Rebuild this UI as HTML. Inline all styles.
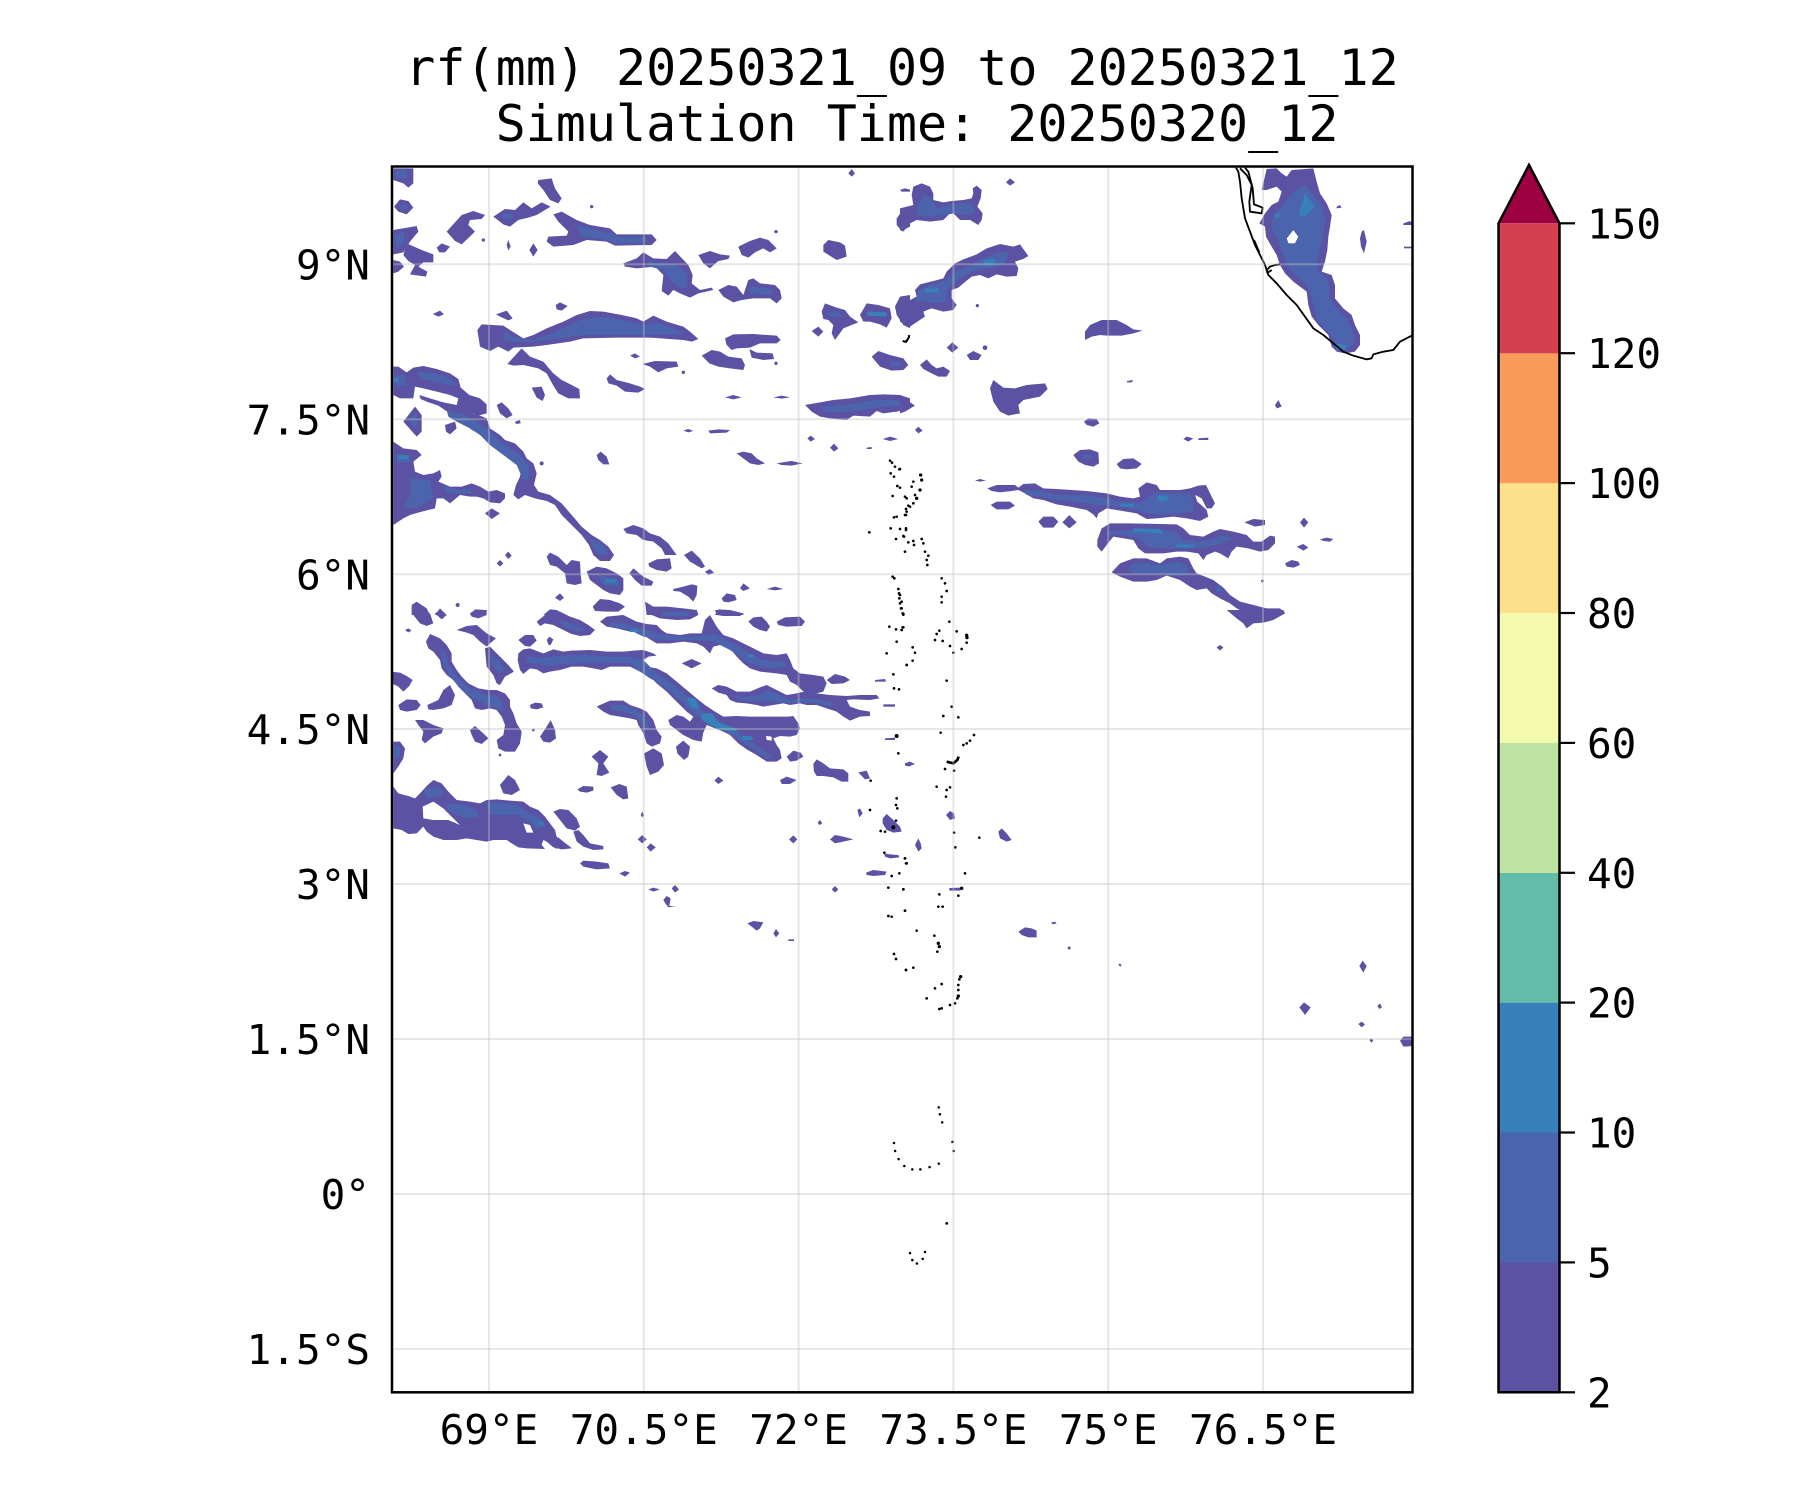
<!DOCTYPE html>
<html><head><meta charset="utf-8"><style>
html,body{margin:0;padding:0;background:#fff}
svg{display:block}
.a{fill:#5b52a3}.b{fill:#4c64ad}.c{fill:#3880b9}.k{fill:#000}
text{font-family:"DejaVu Sans Mono","Liberation Mono",monospace;fill:#000}
</style></head><body>
<svg width="1800" height="1500" viewBox="0 0 1800 1500" xmlns="http://www.w3.org/2000/svg">
<rect width="1800" height="1500" fill="#fff"/>
<defs><clipPath id="ax"><rect x="392" y="167" width="1020" height="1225"/></clipPath></defs>
<g clip-path="url(#ax)">
<!-- region A -->
<g transform="translate(390,165) scale(0.333333)">
<polygon class="a" points="10,10 70,10 70,55 55,68 40,55 10,45"/>
<polygon class="b" points="15,15 50,15 50,40 20,40"/>
<polygon class="a" points="445,45 485,40 495,70 515,100 505,115 480,105 460,75 443,55"/>
<polygon class="a" points="12,125 30,103 55,108 70,128 50,148 25,140"/>
<polygon class="b" points="25,120 50,118 55,130 35,135"/>
<polygon class="a" points="170,200 215,150 250,138 285,150 275,162 240,165 235,180 255,200 215,238 195,228"/>
<polygon class="a" points="310,155 345,132 375,135 400,112 425,130 455,112 482,125 440,150 415,158 385,165 360,185 340,178"/>
<polygon class="b" points="330,150 360,145 370,160 345,165"/>
<polygon class="a" points="490,148 515,140 560,165 600,180 660,190 680,208 785,208 800,225 785,240 675,242 650,230 590,225 550,240 490,245 470,230 475,215 530,212 535,200 505,170"/>
<polygon class="b" points="560,180 620,195 690,215 770,218 770,232 680,235 640,222 575,215"/>
<polygon class="a" points="10,195 80,183 85,200 60,230 40,262 10,268"/>
<polygon class="b" points="15,210 45,200 40,235 20,250"/>
<polygon class="a" points="50,235 95,255 130,268 130,292 100,292 85,305 112,320 108,335 60,328 75,300 55,288 40,270"/>
<polygon class="a" points="10,285 30,290 42,305 25,320 10,325"/>
<polygon class="a" points="140,248 155,235 180,245 165,262 148,262"/>
<circle class="a" cx="280" cy="225" r="5"/>
<polygon class="a" points="350,240 355,225 362,245 355,256"/>
<polygon class="a" points="418,255 430,235 443,255 430,275"/>
<circle class="a" cx="605" cy="125" r="5"/>
<circle class="a" cx="1158" cy="200" r="5"/>
<polygon class="a" points="700,295 740,280 760,262 790,280 830,282 855,258 895,300 908,330 905,355 930,375 965,368 970,375 925,385 900,398 870,385 850,375 835,392 815,378 820,330 795,305 740,310 705,305"/>
<polygon class="b" points="770,290 820,295 860,300 890,325 890,365 870,370 840,345 820,315 780,305"/>
<polygon class="a" points="925,270 960,258 990,268 1020,272 1015,282 985,288 960,310 940,295"/>
<polygon class="a" points="1045,245 1080,228 1110,218 1135,225 1160,250 1140,262 1120,250 1095,262 1075,278 1055,270"/>
<polygon class="a" points="1300,240 1315,225 1350,232 1365,242 1370,275 1340,285 1300,260"/>
<polygon class="a" points="1385,12 1395,25 1385,35 1375,25"/>
<polygon class="a" points="1530,75 1545,70 1560,74 1560,80 1535,80"/>
<polygon class="a" points="1520,160 1535,140 1560,130 1560,185 1535,198 1520,180"/>
<polygon class="a" points="985,375 1015,360 1040,365 1060,390 1075,345 1090,340 1110,355 1155,360 1170,375 1175,400 1160,415 1140,400 1090,400 1055,405 1030,412 1000,395"/>
<polygon class="b" points="1075,365 1140,370 1150,390 1080,385"/>
<polygon class="a" points="262,495 275,478 340,482 360,495 400,520 430,510 470,490 520,470 560,450 600,438 640,440 695,450 740,460 760,470 790,452 830,470 880,485 900,500 925,522 905,530 880,525 780,518 680,518 580,520 540,530 470,540 430,545 370,548 355,560 325,545 300,558 270,545"/>
<polygon class="b" points="340,500 380,520 430,525 470,510 520,490 570,465 640,455 700,465 740,475 760,480 800,472 860,495 880,508 800,510 700,510 600,510 540,515 470,525 420,532 370,530 340,525"/>
<polygon class="a" points="128,447 150,437 162,448 145,455"/>
<polygon class="a" points="318,448 350,437 368,460 355,466 330,455"/>
<polygon class="a" points="497,420 510,412 533,423 515,437 500,433"/>
<polygon class="a" points="352,597 395,550 420,575 460,590 475,608 490,625 515,645 545,660 568,672 570,700 535,700 505,685 490,662 470,625 445,610 400,600 370,602"/>
<polygon class="a" points="425,668 455,665 465,690 458,708 440,698"/>
<polygon class="a" points="720,572 735,565 750,575 735,580"/>
<polygon class="a" points="757,597 795,588 860,590 865,605 830,610 805,622 780,605"/>
<circle class="a" cx="880" cy="622" r="5"/>
<polygon class="a" points="935,572 965,555 990,560 1015,575 1055,580 1065,600 1060,615 1020,610 985,605 958,595"/>
<polygon class="a" points="1005,520 1030,508 1090,507 1160,512 1172,525 1160,535 1110,535 1080,548 1040,550 1025,555 1010,540"/>
<polygon class="a" points="1078,552 1100,563 1148,565 1152,582 1120,585 1085,578"/>
<circle class="a" cx="1158" cy="595" r="5"/>
<polygon class="a" points="650,640 660,628 680,645 720,655 750,665 765,672 745,683 705,680 680,662 655,655"/>
<polygon class="a" points="1005,697 1030,690 1055,697 1030,703"/>
<polygon class="a" points="1150,697 1175,692 1200,697 1175,701"/>
<polygon class="a" points="1245,720 1290,712 1330,705 1380,700 1440,690 1480,688 1530,690 1560,700 1560,730 1520,740 1480,745 1460,738 1440,755 1390,752 1370,765 1320,760 1290,755 1265,740"/>
<polygon class="b" points="1290,725 1380,718 1450,705 1520,705 1540,720 1460,728 1400,738 1340,742 1300,738"/>
<polygon class="a" points="1295,440 1305,415 1340,428 1365,435 1380,455 1405,472 1385,480 1360,490 1335,525 1325,505 1330,480 1315,465 1300,462"/>
<polygon class="b" points="1310,440 1345,440 1360,455 1320,455"/>
<polygon class="a" points="1410,450 1430,415 1465,420 1500,430 1505,460 1490,488 1470,478 1440,470 1420,470"/>
<polygon class="c" points="1430,440 1490,442 1490,455 1432,452"/>
<polygon class="a" points="1515,425 1530,395 1560,390 1560,490 1540,480 1520,450"/>
<polygon class="a" points="1265,498 1285,485 1300,500 1285,515"/>
<polygon class="a" points="1445,575 1465,558 1500,570 1540,580 1555,600 1540,615 1505,617 1470,605"/>
<polygon class="b" points="1500,590 1540,592 1535,605 1505,605"/>
<path d="M1538,528 L1548,531 L1556,518 L1558,510" stroke="#000" stroke-width="6" fill="none"/>
<!-- left bands -->
<polygon class="a" points="10,605 25,605 50,622 70,608 100,603 140,612 180,625 205,642 212,668 238,690 270,700 290,718 290,745 265,752 240,745 215,730 200,720 205,700 180,690 140,680 100,670 75,665 70,700 30,700 10,690"/>
<polygon class="b" points="15,630 45,630 50,660 20,665"/>
<polygon class="b" points="80,620 140,625 180,640 200,660 170,660 130,650 90,640"/>
<polygon class="c" points="10,640 25,640 25,652 10,652"/>
<polygon class="a" points="88,690 120,700 160,712 200,720 225,735 250,748 270,752 290,760 300,790 330,810 345,825 375,835 400,860 410,880 430,895 440,925 432,960 445,980 480,990 515,1015 545,1050 575,1085 605,1110 630,1125 655,1145 672,1170 660,1188 630,1188 610,1170 597,1140 575,1110 550,1085 515,1050 495,1020 470,1008 435,1000 405,990 385,1003 370,990 378,960 390,935 395,905 378,890 360,880 330,862 318,840 295,820 270,805 245,795 232,780 230,760 205,750 175,742 160,732 145,722 110,710 92,702"/>
<polygon class="b" points="170,735 215,745 260,770 290,790 320,820 350,840 390,870 415,900 420,930 405,950 395,935 380,900 340,870 300,840 270,810 240,790 200,770 175,755"/>
<polygon class="b" points="600,1120 640,1140 655,1165 630,1170 610,1150"/>
<polygon class="a" points="165,780 195,770 200,790 180,808 168,800"/>
<polygon class="a" points="40,770 75,725 95,750 95,800 80,815"/>
<polygon class="b" points="55,765 75,745 85,770 75,790"/>
<polygon class="a" points="320,720 335,712 355,730 368,750 350,760 330,745"/>
<polygon class="a" points="375,770 390,765 392,775 378,777"/>
<polygon class="a" points="10,830 40,850 80,855 95,870 70,890 75,920 100,930 130,925 150,915 155,935 145,950 180,965 215,965 245,955 270,965 295,980 320,975 345,985 345,1000 330,1015 300,1012 280,1000 260,995 240,995 210,990 180,1015 160,1000 140,1000 135,1030 95,1040 60,1050 40,1060 10,1080"/>
<polygon class="b" points="20,870 60,870 60,890 20,895"/>
<polygon class="b" points="60,940 120,945 130,1000 80,1030 40,1030 60,990"/>
<polygon class="b" points="160,965 210,975 240,970 250,985 200,985 170,985"/>
<polygon class="c" points="25,870 55,872 55,882 25,882"/>
<polygon class="a" points="285,1045 305,1030 330,1045 305,1062"/>
<circle class="a" cx="455" cy="895" r="6"/>
<polygon class="a" points="320,1195 330,1185 340,1195 330,1205"/>
<polygon class="a" points="345,1170 355,1160 365,1172 355,1182"/>
<polygon class="a" points="620,870 632,860 650,875 658,898 640,898 625,885"/>
<polygon class="a" points="700,1092 730,1080 760,1090 780,1105 810,1115 835,1135 860,1170 825,1170 815,1150 790,1130 760,1125 740,1110 710,1105"/>
<polygon class="a" points="470,1175 480,1163 505,1175 530,1200 545,1185 570,1190 572,1230 575,1255 555,1260 530,1255 525,1225 500,1205 480,1200"/>
<polygon class="a" points="590,1220 620,1205 650,1210 680,1225 700,1240 700,1275 690,1290 660,1285 640,1275 620,1260 600,1245"/>
<polygon class="b" points="620,1230 680,1240 690,1265 640,1260"/>
<polygon class="c" points="645,1243 680,1243 680,1252 645,1252"/>
<polygon class="a" points="718,1225 730,1210 760,1235 790,1250 785,1262 755,1262 735,1245"/>
<polygon class="a" points="775,1195 800,1183 840,1180 845,1210 830,1220 800,1215 778,1205"/>
<polygon class="a" points="882,1170 905,1157 930,1180 945,1205 935,1210 900,1190"/>
<polygon class="a" points="945,1220 960,1212 972,1223 955,1230"/>
<polygon class="a" points="1050,1270 1060,1255 1080,1270 1060,1278"/>
<polygon class="a" points="1130,1272 1155,1265 1180,1272 1155,1276"/>
<polygon class="a" points="850,1272 880,1265 905,1258 922,1262 920,1290 910,1310 895,1295 870,1280 850,1278"/>
<polygon class="a" points="995,1300 1010,1285 1035,1290 1040,1305 1015,1312 1000,1310"/>
<polygon class="a" points="495,1298 510,1285 522,1298 510,1308"/>
<circle class="a" cx="203" cy="1320" r="6"/>
<polygon class="a" points="1040,865 1060,860 1085,865 1100,880 1125,895 1105,900 1080,895 1060,880"/>
<polygon class="a" points="1160,895 1190,890 1205,888 1238,895 1205,902 1175,900"/>
<polygon class="a" points="880,797 895,792 910,798 895,802"/>
<polygon class="a" points="955,797 985,793 1020,795 1010,803 960,805"/>
<polygon class="a" points="1252,820 1262,812 1275,822 1262,830"/>
<polygon class="a" points="1320,848 1332,836 1345,850 1332,860"/>
<polygon class="a" points="1478,822 1500,815 1525,822 1500,828"/>
<polygon class="a" points="1430,848 1445,846 1445,852 1430,852"/>
<polygon class="a" points="65,1320 80,1310 110,1330 120,1350 65,1350"/>
<polygon class="a" points="135,1350 150,1330 170,1350"/>
<polygon class="a" points="240,1350 255,1333 285,1335 290,1350"/>
<polygon class="a" points="460,1350 480,1333 500,1335 525,1350"/>
<polygon class="a" points="608,1325 630,1302 660,1305 690,1315 705,1325 685,1340 650,1340 615,1338"/>
<polygon class="a" points="765,1310 790,1325 830,1325 880,1330 920,1335 925,1350 770,1350"/>
<polygon class="a" points="975,1350 985,1333 1020,1335 1060,1345 1060,1350"/>
<g class="k">
<circle cx="1500" cy="887" r="4"/><circle cx="1506" cy="893" r="4"/><circle cx="1515" cy="905" r="4"/><circle cx="1528" cy="913" r="4"/><circle cx="1502" cy="925" r="4"/><circle cx="1512" cy="935" r="4"/><circle cx="1522" cy="963" r="4"/><circle cx="1530" cy="968" r="4"/><circle cx="1508" cy="993" r="4"/><circle cx="1545" cy="995" r="4"/><circle cx="1555" cy="1022" r="4"/><circle cx="1548" cy="1032" r="4"/><circle cx="1512" cy="1057" r="4"/><circle cx="1520" cy="1055" r="4"/><circle cx="1548" cy="1050" r="4"/><circle cx="1502" cy="1090" r="4"/><circle cx="1530" cy="1092" r="4"/><circle cx="1548" cy="1095" r="4"/><circle cx="1438" cy="1102" r="4"/><circle cx="1518" cy="1122" r="4"/><circle cx="1540" cy="1113" r="4"/><circle cx="1555" cy="1132" r="4"/><circle cx="1545" cy="1160" r="4"/><circle cx="1508" cy="1235" r="4"/><circle cx="1513" cy="1240" r="4"/><circle cx="1525" cy="1272" r="4"/><circle cx="1527" cy="1285" r="4"/><circle cx="1528" cy="1300" r="4"/><circle cx="1530" cy="1315" r="4"/><circle cx="1533" cy="1330" r="4"/><circle cx="1538" cy="1345" r="4"/>
</g>
</g>
<!-- region B -->
<g transform="translate(900,165) scale(0.333333)">
<polygon class="a" points="0,75 15,70 28,77 10,80"/>
<polygon class="a" points="0,130 40,120 35,90 40,65 65,55 90,65 100,85 100,105 130,112 155,108 190,105 215,100 220,85 218,70 230,62 245,75 242,100 232,125 248,145 245,165 235,180 210,165 180,165 155,140 130,165 90,170 50,165 30,175 10,200 0,195"/>
<polygon class="b" points="50,130 70,90 95,100 110,130 150,120 170,115 215,115 225,140 200,150 165,145 130,150 90,155 50,150"/>
<polygon class="a" points="318,52 330,40 345,52 330,62"/>
<polygon class="a" points="0,400 30,405 50,395 45,375 60,358 100,348 130,340 140,320 165,295 190,283 230,268 260,250 300,237 340,245 360,238 385,273 370,282 345,290 355,310 350,333 320,335 290,328 265,340 240,330 215,335 190,355 175,368 155,375 155,400 170,420 160,435 130,440 95,430 70,440 75,455 55,468 30,485 0,470"/>
<polygon class="b" points="50,380 90,360 140,345 165,320 210,300 250,280 300,262 330,262 310,300 270,310 230,315 195,330 160,355 140,380 140,410 110,415 80,410 50,410"/>
<polygon class="c" points="250,285 285,282 285,298 252,300"/>
<polygon class="c" points="75,370 115,370 115,382 75,382"/>
<circle class="a" cx="232" cy="422" r="5"/>
<polygon class="a" points="140,548 157,532 175,548 157,563"/>
<polygon class="a" points="200,570 220,558 245,570 235,585 210,585"/>
<circle class="a" cx="255" cy="548" r="7"/>
<polygon class="a" points="0,585 10,580 22,598 5,615 0,615"/>
<polygon class="a" points="60,600 80,583 95,600 110,610 130,605 150,618 140,635 115,635 95,625 70,612"/>
<polygon class="a" points="270,670 280,645 310,668 345,670 380,660 435,655 443,672 420,695 370,705 355,720 360,745 325,752 300,740 280,710"/>
<polygon class="a" points="0,695 20,705 45,722 15,740 0,745"/>
<polygon class="a" points="555,500 570,480 605,465 650,465 680,480 700,493 728,497 700,505 665,512 620,512 600,510 575,515 555,525"/>
<polygon class="a" points="680,648 700,645 695,652 682,652"/>
<path class="a" fill-rule="evenodd" d="M1085,75 L1100,12 1130,10 1145,25 1160,35 1175,15 1240,10 1250,50 1260,85 1280,115 1295,150 1290,185 1285,215 1282,255 1275,290 1265,320 1295,330 1305,360 1305,400 1330,430 1355,450 1365,480 1380,510 1380,540 1365,560 1335,565 1310,560 1295,545 1285,510 1255,480 1235,455 1225,420 1220,380 1180,350 1155,325 1140,300 1130,270 1115,245 1098,215 1095,185 1078,175 1095,145 1115,120 1135,110 1145,80 1130,65 1100,75 Z M1160,220 L1180,195 1195,215 1185,235 1165,235 Z"/>
<path class="b" fill-rule="evenodd" d="M1120,150 L1140,130 1160,105 1190,70 1215,60 1240,90 1265,120 1275,160 1270,200 1260,250 1250,290 1255,320 1285,345 1290,400 1310,430 1340,460 1355,490 1365,530 1340,555 1310,550 1300,520 1275,490 1250,460 1240,420 1225,370 1200,340 1175,320 1160,300 1145,260 1130,220 1115,190 Z M1160,220 L1180,195 1195,215 1185,235 1165,235 Z"/>
<polygon class="c" points="1195,150 1215,85 1245,125 1215,155"/>
<polygon class="c" points="1125,145 1138,145 1138,158 1125,158"/>
<polygon class="c" points="1300,535 1340,540 1335,555 1310,555"/>
<polygon class="a" points="1310,125 1320,120 1325,128 1310,130"/>
<polygon class="a" points="1385,200 1392,195 1400,230 1392,265 1383,245 1380,220"/>
<polygon class="a" points="1510,175 1530,168 1540,180 1510,180"/>
<polygon class="a" points="1512,245 1540,245 1540,250 1512,250"/>
<polygon class="a" points="1125,720 1135,705 1145,725 1130,730"/>
<polygon class="a" points="552,770 565,760 590,762 598,775 580,785 560,780"/>
<polygon class="a" points="45,795 55,785 68,797 55,805"/>
<polygon class="a" points="520,870 540,855 570,853 595,862 597,895 580,905 555,900 535,890"/>
<polygon class="b" points="545,870 575,868 580,880 550,880"/>
<polygon class="a" points="650,897 670,882 700,880 725,897 710,910 680,913 660,910"/>
<polygon class="a" points="850,822 860,815 880,820 865,830"/>
<polygon class="a" points="895,820 925,818 925,825 895,825"/>
<polygon class="a" points="225,947 240,942 258,947 240,950"/>
<polygon class="a" points="262,970 290,960 345,960 355,968 370,957 405,955 430,970 470,972 560,978 620,985 660,995 700,1000 720,995 715,970 740,952 770,960 780,975 840,975 870,970 895,962 918,960 945,1015 935,1030 920,1030 905,1000 885,990 892,1010 920,1035 925,1055 900,1068 860,1060 820,1055 770,1060 740,1062 710,1045 650,1035 620,1030 595,1045 590,1060 580,1048 560,1035 510,1025 470,1018 430,1005 400,1000 375,985 355,975 335,978 300,982 275,978"/>
<polygon class="b" points="370,975 420,978 470,990 560,990 620,1000 660,1010 720,1015 760,985 820,985 870,985 880,1010 880,1040 840,1045 780,1050 740,1045 690,1030 640,1022 590,1020 520,1010 470,1005 420,995 380,990"/>
<polygon class="c" points="770,995 800,990 805,1005 780,1010"/>
<polygon class="c" points="660,1018 700,1016 700,1025 660,1025"/>
<polygon class="a" points="272,1020 290,1010 330,1010 345,1022 325,1033 290,1033"/>
<polygon class="a" points="415,1070 430,1055 460,1055 475,1070 460,1088 430,1088"/>
<polygon class="a" points="487,1072 508,1050 530,1072 508,1090"/>
<polygon class="a" points="592,1125 605,1090 630,1075 680,1075 780,1077 830,1078 850,1090 870,1110 910,1115 940,1100 960,1092 1000,1100 1040,1110 1060,1130 1085,1130 1110,1112 1125,1115 1125,1135 1105,1155 1080,1160 1045,1150 1010,1145 995,1160 985,1180 960,1165 945,1160 920,1170 910,1185 895,1165 860,1160 830,1160 790,1165 735,1165 715,1150 700,1125 640,1115 620,1140 605,1160 592,1145"/>
<polygon class="b" points="620,1100 700,1095 780,1095 830,1100 850,1125 900,1130 930,1125 960,1110 1000,1120 950,1140 900,1150 850,1150 790,1150 740,1145 720,1120 660,1108 625,1110"/>
<polygon class="c" points="700,1090 780,1092 790,1105 700,1100"/>
<polygon class="c" points="830,1138 880,1140 880,1148 830,1146"/>
<polygon class="a" points="1033,1072 1060,1062 1095,1065 1095,1080 1065,1085"/>
<polygon class="a" points="1200,1072 1212,1058 1225,1072 1212,1088"/>
<polygon class="a" points="1190,1145 1210,1137 1225,1148 1210,1157"/>
<polygon class="a" points="1260,1123 1280,1118 1300,1122 1290,1130 1270,1128"/>
<polygon class="a" points="1155,1195 1175,1185 1195,1190 1200,1200 1180,1208 1160,1205"/>
<circle class="a" cx="1087" cy="1248" r="4"/>
<polygon class="a" points="635,1222 660,1195 700,1180 740,1180 780,1195 800,1180 840,1175 865,1180 880,1210 890,1225 915,1235 940,1245 970,1268 990,1290 1020,1310 1060,1320 1100,1330 1140,1330 1155,1345 1140,1350 1080,1350 1040,1345 1010,1330 990,1315 960,1300 935,1285 920,1270 890,1275 870,1265 840,1245 800,1232 770,1245 740,1250 700,1250 660,1235"/>
<polygon class="b" points="700,1195 740,1195 790,1200 830,1190 860,1200 870,1225 830,1235 790,1225 740,1230 700,1225 680,1215"/>
<polygon class="b" points="945,1262 965,1262 968,1280 948,1280"/>
<g fill="none" stroke="#000" stroke-width="5.5" stroke-linejoin="round">
<path d="M1008,8 L1015,20 1020,50 1025,100 1035,160 1050,200 1065,240 1080,270 1095,300 1105,330 1130,355 1160,390 1190,420 1215,455 1240,490 1270,510 1300,535 1330,560 1360,572 1400,583 1415,580 1420,568 1450,560 1480,555 1500,530 1535,512"/>
<path d="M1020,10 L1040,30 1055,60 1048,110 1050,140 1085,145 1088,128 1062,118 1058,70 1045,20 1035,8"/>
<path d="M1098,318 L1110,305 1125,300 1140,298 M1100,325 L1115,315 M1062,225 L1078,262"/>
<path d="M12,530 L20,528 28,515"/>
</g>
<g class="k">
<circle cx="0" cy="912" r="4"/><circle cx="40" cy="950" r="4"/><circle cx="35" cy="965" r="4"/><circle cx="62" cy="930" r="5"/><circle cx="65" cy="945" r="5"/><circle cx="60" cy="975" r="5"/><circle cx="50" cy="1000" r="5"/><circle cx="45" cy="990" r="4"/><circle cx="20" cy="1000" r="4"/><circle cx="40" cy="1015" r="4"/><circle cx="30" cy="1025" r="4"/><circle cx="20" cy="1040" r="4"/><circle cx="15" cy="1050" r="4"/><circle cx="18" cy="1090" r="4"/><circle cx="12" cy="1115" r="4"/><circle cx="40" cy="1128" r="4"/><circle cx="42" cy="1140" r="4"/><circle cx="65" cy="1122" r="4"/><circle cx="70" cy="1135" r="4"/><circle cx="75" cy="1160" r="4"/><circle cx="85" cy="1172" r="4"/><circle cx="80" cy="1185" r="4"/><circle cx="82" cy="1200" r="4"/><circle cx="125" cy="1240" r="4"/><circle cx="135" cy="1255" r="4"/><circle cx="140" cy="1278" r="4"/><circle cx="125" cy="1295" r="4"/><circle cx="125" cy="1312" r="4"/><circle cx="0" cy="1290" r="4"/><circle cx="5" cy="1310" r="4"/><circle cx="5" cy="1330" r="4"/>
</g>
</g>
<!-- region C -->
<g transform="translate(390,610) scale(0.333333)">
<polygon class="a" points="65,0 90,0 120,10 130,40 110,48 90,40 70,15"/>
<polygon class="a" points="135,10 150,0 170,15 155,28"/>
<polygon class="a" points="240,10 255,0 290,0 290,15 265,25 245,20"/>
<polygon class="a" points="440,35 465,15 480,0 510,5 540,20 570,30 595,45 615,60 600,75 570,78 545,72 520,60 490,45 465,40 450,48"/>
<polygon class="b" points="510,30 560,45 590,60 560,65 520,50"/>
<polygon class="a" points="630,35 650,20 700,15 740,35 770,42 800,45 815,60 830,70 870,75 900,70 935,70 945,30 960,15 980,50 1000,75 1030,85 1060,100 1080,110 1120,130 1160,135 1190,130 1200,150 1210,175 1230,190 1270,195 1300,200 1310,220 1300,245 1280,250 1250,250 1235,240 1220,225 1200,215 1190,195 1160,190 1110,185 1080,175 1060,160 1040,140 1020,115 990,105 970,110 960,130 940,110 920,100 880,95 840,100 800,100 775,85 760,70 720,65 680,55 650,50"/>
<polygon class="b" points="660,35 720,45 770,60 820,75 900,82 950,75 975,70 1010,90 1050,110 1075,130 1120,150 1180,155 1195,170 1130,175 1080,160 1050,140 1020,120 970,95 920,90 860,90 800,88 760,80 720,60 660,50"/>
<polygon class="c" points="720,58 745,58 745,66 720,66"/>
<polygon class="c" points="1075,133 1090,133 1090,142 1075,142"/>
<polygon class="a" points="780,0 920,0 925,15 900,28 860,30 810,25 785,15"/>
<polygon class="b" points="810,5 900,5 895,18 820,18"/>
<polygon class="a" points="975,0 1000,0 1030,8 1060,10 1050,18 1000,18 980,15"/>
<polygon class="a" points="1075,35 1090,22 1115,20 1130,35 1140,50 1130,65 1110,60 1090,50"/>
<polygon class="a" points="1160,35 1185,22 1230,20 1245,35 1235,48 1190,50 1165,45"/>
<polygon class="a" points="45,60 55,55 65,62 55,67"/>
<polygon class="a" points="200,60 230,48 260,45 290,70 318,85 300,100 290,110 270,95 250,75 230,68"/>
<polygon class="a" points="108,95 120,72 150,85 170,105 185,130 185,155 200,180 215,200 235,220 265,235 295,240 320,240 345,250 360,270 360,290 370,310 380,340 395,365 390,400 375,425 345,425 325,415 320,390 340,375 345,345 335,320 320,300 300,295 275,300 255,295 245,270 225,250 205,230 190,210 170,195 155,175 150,150 130,125 115,115"/>
<polygon class="b" points="150,110 165,130 175,160 200,200 240,235 290,255 320,255 335,275 340,300 300,290 270,275 240,260 215,240 185,205 160,165"/>
<polygon class="a" points="285,115 300,110 330,140 355,165 372,185 345,200 330,225 320,220 310,195 290,170"/>
<polygon class="b" points="300,135 325,150 345,180 325,190 305,160"/>
<polygon class="a" points="385,90 405,75 430,75 440,92 420,110 405,108"/>
<polygon class="a" points="470,90 478,80 490,88 482,105 476,105"/>
<path class="a" fill-rule="evenodd" d="M385,130 L400,118 420,115 460,130 490,118 520,125 545,122 600,120 650,125 700,125 730,122 760,120 790,130 800,137 775,140 760,150 770,170 800,175 830,190 860,215 890,240 920,265 945,285 975,305 1000,320 1040,318 1080,320 1120,320 1160,320 1195,320 1210,318 1225,340 1230,355 1220,375 1200,380 1170,378 1150,385 1160,405 1170,420 1175,445 1160,455 1130,455 1100,435 1070,418 1045,400 1020,375 1000,365 975,355 950,345 940,368 935,395 910,390 880,375 860,360 840,345 835,330 860,315 880,320 900,335 910,320 890,305 870,285 850,265 830,245 800,220 780,200 760,190 740,180 720,170 690,170 660,170 635,180 610,175 580,170 545,170 510,180 480,185 460,190 440,178 420,175 400,192 390,180 383,150 Z M1128,378 L1145,380 1145,392 1130,390 Z"/>
<polygon class="b" points="410,135 440,145 480,140 540,135 600,135 660,140 720,140 760,150 800,190 840,215 880,250 910,280 950,315 990,335 1010,345 1040,360 1060,385 1090,400 1110,415 1130,430 1150,440 1130,445 1100,425 1070,405 1040,385 1000,360 960,340 930,325 900,300 870,270 840,245 810,220 780,205 750,185 720,160 680,158 630,160 570,160 520,162 470,168 440,160 410,158"/>
<polygon class="c" points="890,262 915,265 930,295 905,295"/>
<polygon class="c" points="935,310 965,310 990,340 1040,355 1040,365 990,360 960,345 935,330"/>
<polygon class="c" points="1055,378 1085,378 1090,390 1058,390"/>
<polygon class="a" points="965,235 985,225 1010,230 1040,245 1080,245 1110,232 1130,225 1160,240 1190,255 1220,250 1240,245 1260,248 1280,250 1320,255 1370,258 1410,255 1460,255 1468,265 1440,270 1390,268 1370,270 1380,290 1410,300 1440,305 1440,318 1410,320 1380,332 1360,320 1340,305 1310,295 1280,285 1250,285 1230,280 1200,285 1180,280 1150,285 1120,290 1100,285 1070,280 1040,278 1020,270 1010,255 985,248"/>
<polygon class="b" points="1020,255 1060,262 1110,255 1130,240 1170,255 1200,270 1240,265 1300,270 1340,282 1320,290 1280,278 1240,278 1190,280 1140,275 1100,275 1060,272"/>
<polygon class="a" points="1310,210 1335,192 1365,200 1380,210 1360,220 1325,222"/>
<polygon class="a" points="1455,210 1485,207 1488,215 1455,215"/>
<polygon class="a" points="1480,283 1515,283 1515,290 1480,290"/>
<polygon class="a" points="875,160 905,147 935,160 905,175"/>
<polygon class="a" points="630,285 660,272 700,272 720,285 750,295 770,305 790,330 800,360 815,380 810,400 785,410 770,400 760,370 745,345 740,330 720,325 690,320 660,315 640,305 620,290"/>
<polygon class="b" points="660,285 700,285 740,300 765,320 780,360 765,360 740,320 700,305 665,300"/>
<polygon class="a" points="5,185 30,188 50,198 68,210 58,228 40,245 25,230 5,220"/>
<polygon class="a" points="25,285 50,268 80,270 92,285 80,300 50,305 30,300"/>
<polygon class="a" points="112,285 145,270 160,240 180,225 195,255 185,285 160,295 130,300 115,298"/>
<polygon class="a" points="420,285 435,278 455,280 460,292 440,298 422,295"/>
<polygon class="a" points="75,330 100,330 130,345 160,355 155,370 130,380 105,400 95,390 100,365 85,345"/>
<polygon class="a" points="240,360 255,348 280,370 295,385 275,402 255,395 245,375"/>
<polygon class="a" points="450,380 470,350 482,330 495,360 498,385 480,398 460,395"/>
<circle class="a" cx="430" cy="360" r="4"/>
<circle class="a" cx="330" cy="435" r="4"/>
<polygon class="a" points="10,395 30,395 45,415 40,445 25,470 10,490"/>
<polygon class="b" points="12,410 30,410 30,440 12,450"/>
<polygon class="a" points="605,440 630,420 655,440 640,460 658,488 635,498 620,495 625,460"/>
<polygon class="a" points="762,430 790,415 815,430 822,465 805,485 780,495 770,470"/>
<polygon class="a" points="858,410 880,392 900,410 895,440 882,450 862,430"/>
<polygon class="a" points="1190,440 1210,422 1232,428 1240,440 1220,452 1200,455"/>
<polygon class="a" points="1270,462 1280,448 1300,460 1320,475 1360,478 1375,490 1375,515 1355,515 1330,502 1300,498 1280,498 1272,485"/>
<polygon class="a" points="1405,487 1430,482 1440,505 1425,508"/>
<polygon class="a" points="1545,460 1560,455 1560,470 1545,467"/>
<polygon class="a" points="973,512 985,500 1000,512 985,522"/>
<polygon class="a" points="1170,510 1190,500 1220,510 1200,522 1175,522"/>
<path class="a" fill-rule="evenodd" d="M10,530 L25,550 55,558 75,565 90,550 110,528 130,510 155,520 175,545 200,570 240,575 270,580 290,570 320,568 360,572 400,575 420,590 445,600 465,620 480,640 495,660 500,680 520,700 545,715 515,718 490,712 470,695 460,690 455,705 465,717 410,715 385,712 365,700 350,690 310,690 290,695 260,690 230,685 200,690 160,690 130,680 110,665 100,650 80,670 55,672 35,660 10,655 Z M98,590 L130,575 160,595 210,645 175,630 130,630 100,625 Z M400,640 L420,645 430,668 410,668 Z"/>
<polygon class="b" points="170,580 220,585 260,600 265,620 230,625 190,610 170,595"/>
<polygon class="b" points="290,580 330,578 380,585 420,610 450,625 470,650 440,655 420,635 380,615 340,615 300,615"/>
<polygon class="b" points="100,540 140,530 160,545 150,560 110,565"/>
<polygon class="c" points="445,635 460,635 460,645 445,645"/>
<polygon class="a" points="330,525 355,495 375,510 390,540 365,555 340,550"/>
<polygon class="a" points="490,605 510,597 535,600 560,625 570,650 555,662 530,655 510,630"/>
<polygon class="a" points="550,665 565,660 580,675 600,700 640,708 640,718 610,720 580,710 560,695"/>
<polygon class="a" points="490,690 505,682 520,695 540,710 545,715 495,715"/>
<polygon class="a" points="562,538 580,528 610,530 610,542 590,548 570,545"/>
<polygon class="a" points="662,532 688,522 710,530 715,565 700,568 680,555"/>
<polygon class="a" points="752,615 757,605 762,615 757,622"/>
<polygon class="a" points="743,688 757,675 770,688 757,700"/>
<polygon class="a" points="770,712 782,700 797,712 782,725"/>
<polygon class="a" points="570,760 580,752 620,755 655,760 660,775 620,778 580,770"/>
<polygon class="a" points="688,790 705,783 720,788 705,800"/>
<polygon class="a" points="775,838 790,833 810,838 790,845"/>
<polygon class="a" points="845,835 855,825 867,838 855,848"/>
<polygon class="a" points="820,870 830,858 842,865 838,888 858,888 835,892 826,880"/>
<polygon class="a" points="1072,940 1090,933 1120,937 1110,955 1100,962 1085,950"/>
<polygon class="a" points="1150,970 1158,957 1168,970 1158,982"/>
<polygon class="a" points="1195,988 1212,988 1212,993 1195,993"/>
<polygon class="a" points="1283,638 1290,630 1297,640 1288,645"/>
<polygon class="a" points="1197,688 1210,676 1222,688 1210,700"/>
<polygon class="a" points="1320,688 1335,675 1360,680 1390,688 1360,695 1335,700"/>
<polygon class="a" points="1482,730 1500,733 1525,735 1528,742 1500,745 1485,740"/>
<polygon class="a" points="1428,788 1450,780 1490,785 1485,795 1450,798 1430,795"/>
<polygon class="a" points="1325,838 1335,828 1345,838 1335,848"/>
<polygon class="a" points="1478,625 1490,612 1510,630 1530,650 1535,665 1510,668 1490,660 1478,640"/>
<polygon class="a" points="1485,385 1515,383 1515,390 1485,390"/>
<polygon class="a" points="1402,600 1410,595 1418,610 1408,622"/>
<polygon class="a" points="1545,460 1560,455 1560,470"/>
<g class="k">
<circle cx="1540" cy="12" r="4"/><circle cx="1498" cy="50" r="4"/><circle cx="1518" cy="58" r="4"/><circle cx="1535" cy="60" r="4"/><circle cx="1540" cy="52" r="4"/><circle cx="1520" cy="95" r="4"/><circle cx="1490" cy="130" r="4"/><circle cx="1550" cy="165" r="4"/><circle cx="1510" cy="193" r="4"/><circle cx="1512" cy="235" r="4"/><circle cx="1527" cy="238" r="4"/><circle cx="1520" cy="378" r="6"/><circle cx="1525" cy="430" r="4"/><circle cx="1442" cy="512" r="4"/><circle cx="1520" cy="565" r="4"/><circle cx="1518" cy="585" r="4"/><circle cx="1522" cy="595" r="4"/><circle cx="1440" cy="600" r="4"/><circle cx="1518" cy="632" r="4"/><circle cx="1510" cy="652" r="6"/><circle cx="1472" cy="663" r="4"/><circle cx="1485" cy="665" r="4"/><circle cx="1483" cy="728" r="4"/><circle cx="1545" cy="745" r="4"/><circle cx="1548" cy="760" r="4"/><circle cx="1528" cy="790" r="4"/><circle cx="1505" cy="798" r="4"/><circle cx="1495" cy="833" r="4"/><circle cx="1540" cy="838" r="4"/><circle cx="1545" cy="902" r="4"/><circle cx="1495" cy="918" r="4"/><circle cx="1505" cy="920" r="4"/><circle cx="1512" cy="1032" r="4"/><circle cx="1518" cy="1047" r="4"/><circle cx="1548" cy="1080" r="4"/>
</g>
</g>
<!-- region D -->
<g transform="translate(900,610) scale(0.333333)">
<polygon class="a" points="980,0 1150,0 1155,10 1120,30 1090,38 1060,40 1040,55 1030,40 1010,25"/>
<polygon class="a" points="950,112 960,105 970,112 960,122"/>
<polygon class="a" points="15,462 30,455 45,462 30,468"/>
<polygon class="a" points="138,615 150,603 162,610 165,625 150,630"/>
<polygon class="a" points="295,665 305,655 320,670 335,690 320,695 300,685"/>
<polygon class="a" points="45,705 55,685 62,700 65,715 55,725"/>
<polygon class="a" points="148,834 180,833 182,842 148,842"/>
<polygon class="a" points="355,965 375,952 395,955 410,962 410,982 385,982 365,975"/>
<polygon class="a" points="453,938 465,935 470,940 458,943"/>
<polygon class="a" points="502,1013 508,1008 513,1015 507,1020"/>
<polygon class="a" points="655,1063 660,1060 665,1067 660,1070"/>
<polygon class="a" points="1378,1068 1388,1052 1400,1068 1390,1088"/>
<polygon class="a" points="1198,1192 1212,1177 1232,1192 1215,1215"/>
<polygon class="a" points="1432,1188 1440,1180 1446,1192 1438,1197"/>
<polygon class="a" points="1375,1242 1385,1235 1395,1243 1385,1252"/>
<polygon class="a" points="1408,1290 1414,1285 1420,1292 1414,1298"/>
<polygon class="a" points="1500,1292 1510,1280 1540,1280 1540,1308 1510,1310"/>
<path d="M140,455 L160,460 172,450 176,440" stroke="#000" stroke-width="8" fill="none"/>
<g class="k">
<circle cx="10" cy="14" r="4"/><circle cx="8" cy="52" r="4"/><circle cx="148" cy="35" r="4"/><circle cx="118" cy="62" r="4"/><circle cx="110" cy="72" r="4"/><circle cx="170" cy="64" r="4"/><circle cx="200" cy="76" r="5"/><circle cx="201" cy="83" r="5"/><circle cx="105" cy="90" r="4"/><circle cx="128" cy="93" r="4"/><circle cx="200" cy="98" r="4"/><circle cx="150" cy="108" r="4"/><circle cx="185" cy="117" r="4"/><circle cx="38" cy="112" r="4"/><circle cx="45" cy="128" r="4"/><circle cx="160" cy="128" r="4"/><circle cx="20" cy="165" r="4"/><circle cx="38" cy="152" r="4"/><circle cx="140" cy="212" r="4"/><circle cx="155" cy="290" r="4"/><circle cx="130" cy="318" r="4"/><circle cx="175" cy="322" r="4"/><circle cx="122" cy="368" r="4"/><circle cx="222" cy="375" r="4"/><circle cx="210" cy="392" r="4"/><circle cx="200" cy="400" r="4"/><circle cx="190" cy="405" r="4"/><circle cx="135" cy="477" r="4"/><circle cx="162" cy="482" r="4"/><circle cx="110" cy="530" r="4"/><circle cx="150" cy="532" r="4"/><circle cx="140" cy="540" r="4"/><circle cx="138" cy="560" r="4"/><circle cx="162" cy="668" r="4"/><circle cx="238" cy="683" r="4"/><circle cx="166" cy="712" r="4"/><circle cx="15" cy="745" r="4"/><circle cx="20" cy="760" r="4"/><circle cx="195" cy="790" r="4"/><circle cx="10" cy="838" r="4"/><circle cx="185" cy="835" r="5"/><circle cx="118" cy="853" r="4"/><circle cx="175" cy="857" r="4"/><circle cx="115" cy="890" r="4"/><circle cx="128" cy="890" r="4"/><circle cx="15" cy="902" r="4"/><circle cx="50" cy="962" r="4"/><circle cx="103" cy="977" r="4"/><circle cx="115" cy="1000" r="5"/><circle cx="118" cy="1010" r="5"/><circle cx="112" cy="1025" r="4"/><circle cx="18" cy="1080" r="4"/><circle cx="40" cy="1073" r="4"/><circle cx="182" cy="1100" r="5"/><circle cx="178" cy="1108" r="4"/><circle cx="175" cy="1125" r="4"/><circle cx="105" cy="1135" r="4"/><circle cx="125" cy="1122" r="4"/><circle cx="175" cy="1140" r="4"/><circle cx="175" cy="1158" r="5"/><circle cx="172" cy="1165" r="4"/><circle cx="80" cy="1165" r="4"/><circle cx="165" cy="1180" r="4"/><circle cx="150" cy="1185" r="4"/><circle cx="125" cy="1195" r="4"/><circle cx="118" cy="1197" r="4"/>
</g>
</g>
<!-- lower islands (display-scale coords) -->
<g transform="scale(1.1476)" class="k">
<circle cx="818" cy="965" r="1.1"/><circle cx="819" cy="971" r="1.1"/><circle cx="821" cy="978" r="1.1"/><circle cx="830" cy="995" r="1.1"/><circle cx="831" cy="1003" r="1.1"/><circle cx="779" cy="996" r="1.1"/><circle cx="780" cy="1003" r="1.1"/><circle cx="783" cy="1010" r="1.1"/><circle cx="788" cy="1016" r="1.1"/><circle cx="795" cy="1019" r="1.1"/><circle cx="802" cy="1019" r="1.1"/><circle cx="810" cy="1017" r="1.1"/><circle cx="818" cy="1014" r="1.1"/><circle cx="825" cy="1066" r="1.2"/><circle cx="793" cy="1092" r="1.1"/><circle cx="795" cy="1098" r="1.1"/><circle cx="799" cy="1101" r="1.1"/><circle cx="804" cy="1097" r="1.1"/><circle cx="806" cy="1091" r="1.1"/>
</g>
<!-- gridlines -->
<g stroke="#c4c4c4" stroke-opacity="0.4" stroke-width="2">
<line x1="489" y1="167" x2="489" y2="1392"/>
<line x1="643.8" y1="167" x2="643.8" y2="1392"/>
<line x1="798.6" y1="167" x2="798.6" y2="1392"/>
<line x1="953.4" y1="167" x2="953.4" y2="1392"/>
<line x1="1108.2" y1="167" x2="1108.2" y2="1392"/>
<line x1="1263" y1="167" x2="1263" y2="1392"/>
<line x1="392" y1="264.3" x2="1412" y2="264.3"/>
<line x1="392" y1="419.3" x2="1412" y2="419.3"/>
<line x1="392" y1="574.3" x2="1412" y2="574.3"/>
<line x1="392" y1="729" x2="1412" y2="729"/>
<line x1="392" y1="884" x2="1412" y2="884"/>
<line x1="392" y1="1039" x2="1412" y2="1039"/>
<line x1="392" y1="1194" x2="1412" y2="1194"/>
<line x1="392" y1="1349" x2="1412" y2="1349"/>
</g>
</g>
<!-- axes frame -->
<rect x="392" y="166.5" width="1020.5" height="1225.8" fill="none" stroke="#000" stroke-width="2.5"/>
<!-- title -->
<text x="902" y="85" font-size="50" text-anchor="middle">rf(mm) 20250321_09 to 20250321_12</text>
<text x="917" y="141" font-size="50" text-anchor="middle">Simulation Time: 20250320_12</text>
<!-- y labels -->
<g font-size="41" text-anchor="end">
<text x="370" y="279.3">9°N</text>
<text x="370" y="434.3">7.5°N</text>
<text x="370" y="589.3">6°N</text>
<text x="370" y="744">4.5°N</text>
<text x="370" y="899">3°N</text>
<text x="370" y="1054">1.5°N</text>
<text x="370" y="1209">0°</text>
<text x="370" y="1364">1.5°S</text>
</g>
<!-- x labels -->
<g font-size="41" text-anchor="middle">
<text x="489" y="1444">69°E</text>
<text x="643.8" y="1444">70.5°E</text>
<text x="798.6" y="1444">72°E</text>
<text x="953.4" y="1444">73.5°E</text>
<text x="1108.2" y="1444">75°E</text>
<text x="1263" y="1444">76.5°E</text>
</g>
<!-- colorbar -->
<g>
<rect x="1498.5" y="1262.4" width="61" height="129.9" fill="#5b52a3"/>
<rect x="1498.5" y="1132.5" width="61" height="130" fill="#4c64ad"/>
<rect x="1498.5" y="1002.6" width="61" height="130" fill="#3880b9"/>
<rect x="1498.5" y="872.8" width="61" height="130" fill="#62bca8"/>
<rect x="1498.5" y="742.9" width="61" height="130" fill="#bde4a0"/>
<rect x="1498.5" y="613" width="61" height="130" fill="#f3faad"/>
<rect x="1498.5" y="483.1" width="61" height="130" fill="#fde08b"/>
<rect x="1498.5" y="353.2" width="61" height="130" fill="#f99b59"/>
<rect x="1498.5" y="223.3" width="61" height="130" fill="#d43e4f"/>
<polygon points="1498.5,223.3 1529,165 1559.5,223.3" fill="#9e0142"/>
<path d="M1498.5,1392.3 V223.3 L1529,165 L1559.5,223.3 V1392.3 Z" fill="none" stroke="#000" stroke-width="2.5" stroke-linejoin="miter"/>
<g stroke="#000" stroke-width="2.2">
<line x1="1559.5" y1="223.3" x2="1575" y2="223.3"/>
<line x1="1559.5" y1="353.2" x2="1575" y2="353.2"/>
<line x1="1559.5" y1="483.1" x2="1575" y2="483.1"/>
<line x1="1559.5" y1="613" x2="1575" y2="613"/>
<line x1="1559.5" y1="742.9" x2="1575" y2="742.9"/>
<line x1="1559.5" y1="872.8" x2="1575" y2="872.8"/>
<line x1="1559.5" y1="1002.6" x2="1575" y2="1002.6"/>
<line x1="1559.5" y1="1132.5" x2="1575" y2="1132.5"/>
<line x1="1559.5" y1="1262.4" x2="1575" y2="1262.4"/>
<line x1="1559.5" y1="1392.3" x2="1575" y2="1392.3"/>
</g>
<g font-size="41">
<text x="1587" y="238.3">150</text>
<text x="1587" y="368.2">120</text>
<text x="1587" y="498.1">100</text>
<text x="1587" y="628">80</text>
<text x="1587" y="757.9">60</text>
<text x="1587" y="887.8">40</text>
<text x="1587" y="1017.6">20</text>
<text x="1587" y="1147.5">10</text>
<text x="1587" y="1277.4">5</text>
<text x="1587" y="1407.3">2</text>
</g>
</g>
</svg>
</body></html>
